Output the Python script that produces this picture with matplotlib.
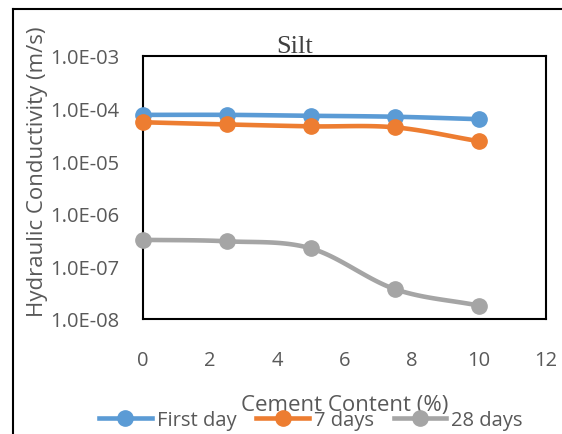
import numpy as np
import matplotlib
matplotlib.use("Agg")
import matplotlib.pyplot as plt
from matplotlib.lines import Line2D

cement = [0, 2.5, 5, 7.5, 10]
first_day = [7.6e-5, 7.6e-5, 7.3e-5, 7.0e-5, 6.3e-5]
days7 = [5.5e-5, 5.0e-5, 4.6e-5, 4.4e-5, 2.4e-5]
days28 = [3.2e-7, 3.0e-7, 2.2e-7, 3.7e-8, 1.8e-8]
series = [("First day", first_day, "#5B9BD5"),
          ("7 days", days7, "#ED7D31"),
          ("28 days", days28, "#A5A5A5")]
yticks = [1e-8, 1e-7, 1e-6, 1e-5, 1e-4, 1e-3]
ytick_labels = ["1.0E-08", "1.0E-07", "1.0E-06", "1.0E-05", "1.0E-04", "1.0E-03"]
xticks = [0, 2, 4, 6, 8, 10, 12]

def smooth(x, y, n=30):
    # Catmull-Rom through points in log space (Excel-like smoothed line)
    x = np.asarray(x, float); ly = np.log10(y)
    P = np.column_stack([x, ly])
    P = np.vstack([P[0] - (P[1] - P[0]), P, P[-1] + (P[-1] - P[-2])])
    out = []
    for i in range(1, len(P) - 2):
        p0, p1, p2, p3 = P[i - 1], P[i], P[i + 1], P[i + 2]
        t = np.linspace(0, 1, n)[:, None]
        c = 0.5 * ((2 * p1) + (-p0 + p2) * t + (2 * p0 - 5 * p1 + 4 * p2 - p3) * t**2
                   + (-p0 + 3 * p1 - 3 * p2 + p3) * t**3)
        out.append(c if i == 1 else c[1:])
    out = np.vstack(out)
    return out[:, 0], 10 ** out[:, 1]

plt.rcParams['font.family'] = ['Open Sans', 'DejaVu Sans']
fig = plt.figure(figsize=(5.62, 4.35), dpi=100)
ax = fig.add_axes([143 / 562, 1 - 320 / 435, (546 - 143) / 562, (320 - 57) / 435])

for name, vals, col in series:
    sx, sy = smooth(cement, vals)
    ax.plot(sx, sy, color=col, lw=3.3, solid_capstyle='round', zorder=2, clip_on=False)
    ax.plot(cement, vals, 'o', color=col, ms=11, zorder=3, clip_on=False)

ax.set_yscale('log')
ax.set_ylim(1e-8, 1e-3)
ax.set_xlim(0, 12)
ax.set_yticks(yticks)
ax.set_yticklabels(ytick_labels)
ax.minorticks_off()
ax.set_xticks(xticks)
ax.tick_params(length=0, labelsize=14.5, labelcolor='#595959')
ax.tick_params(axis='y', pad=17)
ax.tick_params(axis='x', pad=22)
for s in ax.spines.values():
    s.set_linewidth(1.5)
    s.set_color('black')

fig.text(295 / 562, 1 - 47 / 435, "Silt", family='Liberation Serif', fontsize=19,
         color='#404040', ha='center', va='center')
fig.text(38 / 562, 1 - 172 / 435, "Hydraulic Conductivity (m/s)", rotation=90,
         fontsize=16, color='#595959', ha='center', va='center')
fig.text(345 / 562, 1 - 406 / 435, "Cement Content (%)", fontsize=16,
         color='#595959', ha='center', va='center')

handles = [Line2D([0], [0], color=c, lw=3.3, marker='o', ms=11) for _, _, c in series]
leg = fig.legend(handles, [n for n, _, _ in series], loc='center',
                 bbox_to_anchor=(311 / 562, 1 - 421 / 435), ncol=3, frameon=False,
                 fontsize=14.5, handlelength=2.6, columnspacing=1.0, handletextpad=0.25,
                 labelcolor='#595959', borderpad=0, borderaxespad=0)

# outer chart frame
fig.add_artist(Line2D([13 / 562, 13 / 562], [0, 1 - 10 / 435], transform=fig.transFigure,
                      color='black', lw=1.5))
fig.add_artist(Line2D([13 / 562, 1], [1 - 10 / 435, 1 - 10 / 435], transform=fig.transFigure,
                      color='black', lw=1.5))

fig.savefig("out.png", dpi=100)
